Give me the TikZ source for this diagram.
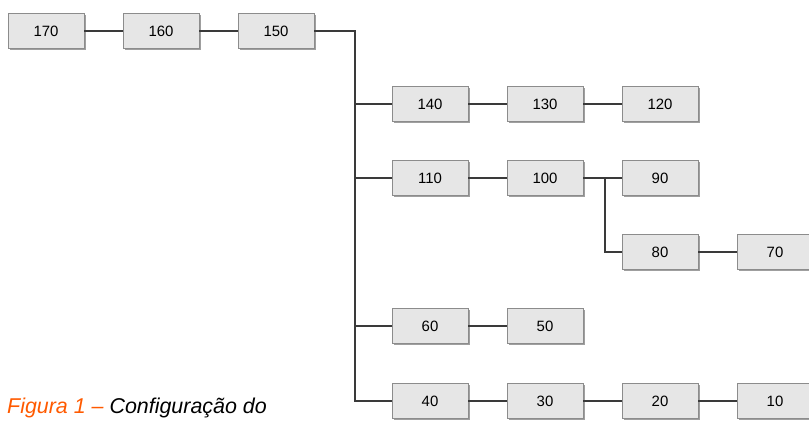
\documentclass[tikz,border=0pt]{standalone}
\usepackage{fontspec}
\setmainfont{Liberation Sans}
\usetikzlibrary{shadows}
\definecolor{boxfill}{HTML}{E6E6E6}
\definecolor{boxline}{HTML}{8C8C8C}
\definecolor{linkgray}{HTML}{3A3A3A}
\definecolor{capred}{HTML}{FF5A00}
\begin{document}
\begin{tikzpicture}[x=1bp,y=-1bp,
    valbox/.style={draw=boxline, fill=boxfill, line width=0.8bp,
        minimum width=76bp, minimum height=35bp, inner sep=0pt,
        font=\fontsize{15}{17}\selectfont,
        drop shadow={shadow xshift=1.6bp, shadow yshift=-1.6bp, fill=gray!75, opacity=1}},
    link/.style={draw=linkgray, line width=1.1bp}]
\useasboundingbox (0,0) rectangle (809,424);
% value boxes
\foreach \v/\x/\y in {170/46/31, 160/161/31, 150/276/31,
        140/430/104, 130/545/104, 120/660/104,
        110/430/178, 100/545/178, 90/660/178,
        80/660/252, 70/775/252,
        60/430/326, 50/545/326,
        40/430/401, 30/545/401, 20/660/401, 10/775/401}
    \node[valbox] (n\v) at (\x,\y) {\v};
\coordinate (trunk) at (355,0);
\coordinate (fork) at (605,0);
% links
\draw[link] (n170) -- (n160);
\draw[link] (n160) -- (n150);
\draw[link] (n150.east) -| (trunk |- n40) -- (n40.west);
\foreach \v in {140,110,60}
    \draw[link] (trunk |- n\v) -- (n\v.west);
\draw[link] (n140) -- (n130);
\draw[link] (n130) -- (n120);
\draw[link] (n110) -- (n100);
\draw[link] (n100) -- (n90);
\draw[link] (fork |- n100) |- (n80.west);
\draw[link] (n80) -- (n70);
\draw[link] (n60) -- (n50);
\draw[link] (n40) -- (n30);
\draw[link] (n30) -- (n20);
\draw[link] (n20) -- (n10);
% caption
\node[anchor=base west, inner sep=0pt, font=\fontsize{21.5}{24}\selectfont\itshape] (caption)
    at (7,413) {\textcolor{capred}{Figura 1 –} Configuração do};
\end{tikzpicture}
\end{document}
